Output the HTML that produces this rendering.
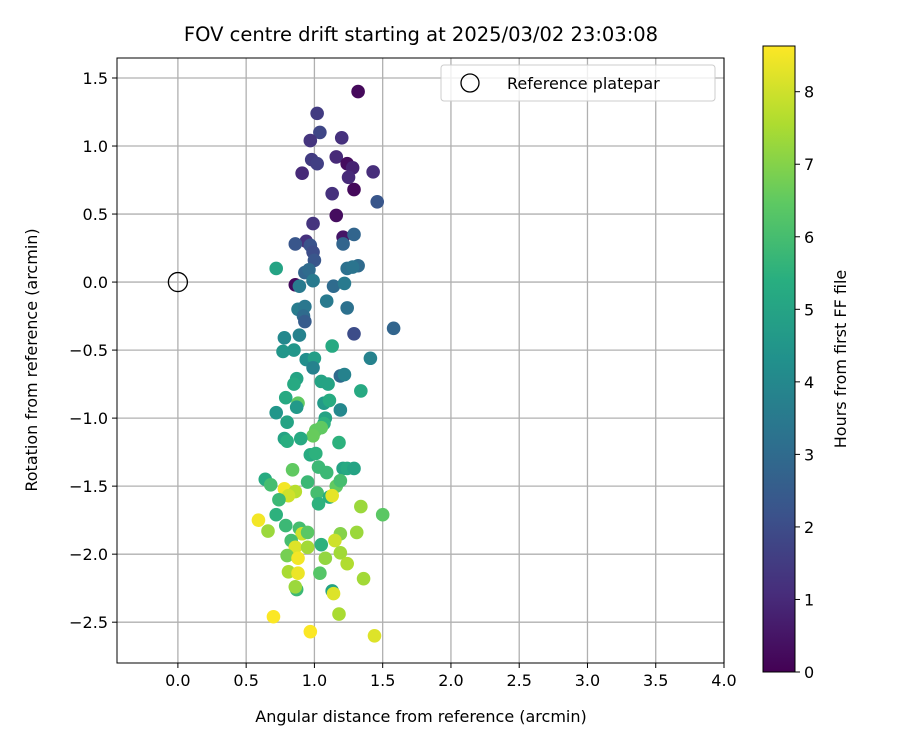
<!DOCTYPE html>
<html><head><meta charset="utf-8"><style>
body{margin:0;background:#fff;}
svg text{font-family:"DejaVu Sans","Liberation Sans",sans-serif;fill:#000;}
</style></head><body>
<svg id="chart" width="900" height="750" viewBox="0 0 900 750" xmlns="http://www.w3.org/2000/svg">
<defs>
<linearGradient id="vir" x1="0" y1="1" x2="0" y2="0">
<stop offset="0" stop-color="#440154"/><stop offset="0.125" stop-color="#472d7b"/><stop offset="0.25" stop-color="#3b528b"/><stop offset="0.375" stop-color="#2c728e"/><stop offset="0.5" stop-color="#21918c"/><stop offset="0.625" stop-color="#28ae80"/><stop offset="0.75" stop-color="#5ec962"/><stop offset="0.875" stop-color="#addc30"/><stop offset="1" stop-color="#fde725"/>
</linearGradient>
<clipPath id="pc"><rect x="117" y="58" width="607" height="605"/></clipPath>
</defs>
<text x="421" y="41" font-size="19.5" text-anchor="middle">FOV centre drift starting at 2025/03/02 23:03:08</text>
<g id="grid"></g>
<g id="pts" clip-path="url(#pc)"></g>
<rect x="117" y="58" width="607" height="605" fill="none" stroke="#000" stroke-width="1"/>
<g id="ticks"></g>
<text x="421" y="722" font-size="16" text-anchor="middle">Angular distance from reference (arcmin)</text>
<text x="37" y="360" font-size="16" text-anchor="middle" transform="rotate(-90 37 360)">Rotation from reference (arcmin)</text>
<g>
<rect x="441" y="65" width="274" height="36" rx="3" fill="#fff" fill-opacity="0.8" stroke="#ccc"/>
<circle cx="470" cy="83" r="9" fill="none" stroke="#000" stroke-width="1.3"/>
<text x="507" y="89" font-size="16">Reference platepar</text>
</g>
<rect x="763" y="46" width="32" height="626" fill="url(#vir)" stroke="#000" stroke-width="1"/>
<g id="cbt"></g>
<text x="846" y="359" font-size="16" text-anchor="middle" transform="rotate(-90 846 359)">Hours from first FF file</text>
</svg>
<script>
const xTicks=[0,0.5,1,1.5,2,2.5,3,3.5,4];
const yTicks=[-2.5,-2,-1.5,-1,-0.5,0,0.5,1,1.5];
const cbTicks=[0,1,2,3,4,5,6,7,8];
const ptX=[1.32,1.02,1.04,0.97,1.20,1.16,1.24,1.28,0.98,1.02,0.91,1.25,1.43,1.29,1.13,1.46,1.16,0.99,1.21,1.29,0.94,0.86,0.97,1.21,0.99,1.00,0.72,1.24,1.32,1.28,0.93,0.96,0.86,0.89,0.99,1.14,1.22,1.09,0.88,0.93,1.24,0.92,0.93,1.29,1.58,0.89,0.78,0.77,0.85,1.13,1.41,0.94,1.00,0.99,1.19,1.22,0.87,1.05,1.10,0.85,1.34,0.79,0.88,0.87,1.07,1.11,1.19,0.72,1.08,0.80,1.07,1.01,1.05,0.99,0.78,0.80,0.90,1.18,0.97,1.01,1.03,1.21,1.24,1.29,0.84,1.09,0.64,0.68,0.95,1.16,1.19,0.78,0.86,0.81,1.02,1.11,1.13,0.74,1.03,1.34,1.50,0.59,0.66,0.72,0.79,0.89,0.91,0.95,1.19,1.31,0.83,0.86,0.95,1.05,1.15,1.19,0.80,0.88,1.08,1.24,0.81,0.88,1.04,1.36,0.87,0.86,1.13,1.14,0.70,1.18,0.97,1.44];
const ptY=[1.40,1.24,1.10,1.04,1.06,0.92,0.87,0.84,0.90,0.87,0.80,0.77,0.81,0.68,0.65,0.59,0.49,0.43,0.33,0.35,0.30,0.28,0.27,0.28,0.22,0.16,0.10,0.10,0.12,0.11,0.07,0.09,-0.02,-0.03,0.01,-0.03,-0.01,-0.14,-0.20,-0.18,-0.19,-0.25,-0.29,-0.38,-0.34,-0.39,-0.41,-0.51,-0.50,-0.47,-0.56,-0.57,-0.56,-0.63,-0.69,-0.68,-0.71,-0.73,-0.75,-0.75,-0.80,-0.85,-0.89,-0.92,-0.89,-0.87,-0.94,-0.96,-1.00,-1.03,-1.04,-1.09,-1.07,-1.13,-1.15,-1.17,-1.15,-1.18,-1.27,-1.26,-1.36,-1.37,-1.37,-1.37,-1.38,-1.40,-1.45,-1.49,-1.47,-1.50,-1.46,-1.52,-1.54,-1.57,-1.55,-1.58,-1.57,-1.60,-1.63,-1.65,-1.71,-1.75,-1.83,-1.71,-1.79,-1.81,-1.85,-1.84,-1.85,-1.84,-1.90,-1.95,-1.95,-1.93,-1.90,-1.99,-2.01,-2.03,-2.03,-2.07,-2.13,-2.14,-2.14,-2.18,-2.26,-2.24,-2.27,-2.29,-2.46,-2.44,-2.57,-2.60];
const ptH=[0.2,1.5,1.8,1.3,1.2,1.0,0.3,0.8,1.5,1.6,1.0,1.0,1.1,0.2,1.2,2.3,0.3,1.3,0.5,2.8,1.2,2.3,2.2,2.8,2.0,2.3,5.0,3.2,3.0,3.3,2.8,3.0,0.2,3.5,3.5,3.0,3.5,3.5,3.6,3.4,3.2,3.0,2.5,2.0,2.8,3.8,4.0,4.5,4.5,5.2,3.8,4.2,4.8,3.8,3.0,3.8,5.0,5.0,5.0,5.2,5.2,5.2,6.5,4.6,4.7,5.3,4.0,4.5,5.0,5.0,5.5,6.5,6.5,6.6,5.0,5.4,5.2,5.5,5.3,5.5,5.8,5.0,5.2,5.0,6.5,5.8,5.3,6.0,5.8,6.5,6.0,8.5,7.7,8.0,6.0,5.4,8.3,5.8,5.5,7.3,6.4,8.5,7.3,5.5,5.8,6.0,8.0,6.4,7.0,7.3,6.0,8.2,7.4,5.5,8.0,7.4,6.8,8.5,7.2,7.6,7.5,8.4,6.3,7.4,5.8,7.3,5.0,8.2,8.6,7.5,8.6,8.2];

const NS="http://www.w3.org/2000/svg";
const X0=117,X1=724,Y0=58,Y1=663;
const xMin=-0.446,xMax=4.0,yMin=-2.80,yMax=1.647,hMax=8.63;
const sx=v=>X0+(v-xMin)/(xMax-xMin)*(X1-X0);
const sy=v=>Y1-(v-yMin)/(yMax-yMin)*(Y1-Y0);
const sc=h=>672-h/hMax*626;
const VIR=[[68,1,84],[71,45,123],[59,82,139],[44,114,142],[33,145,140],[40,174,128],[94,201,98],[173,220,48],[253,231,37]];
function vir(h){let t=Math.max(0,Math.min(1,h/hMax))*8;let i=Math.min(7,Math.floor(t)),f=t-i;const a=VIR[i],b=VIR[i+1];return `rgb(${a.map((c,k)=>Math.round(c+(b[k]-c)*f)).join(',')})`;}
function mk(tag,at,parent,txt){const e=document.createElementNS(NS,tag);for(const k in at)e.setAttribute(k,at[k]);if(txt!==undefined)e.textContent=txt;parent.appendChild(e);return e;}
const grid=document.getElementById('grid'),ticks=document.getElementById('ticks'),pts=document.getElementById('pts'),cbt=document.getElementById('cbt');
xTicks.forEach(v=>{const x=sx(v);
const g=mk('line',{x1:x,x2:x,y1:Y0,y2:Y1,stroke:'#b0b0b0','stroke-width':1.3},grid);


mk('line',{x1:x,x2:x,y1:Y1,y2:Y1+5,stroke:'#000'},ticks);
const t=mk('text',{x:x,y:Y1+23,'font-size':16,'text-anchor':'middle'},ticks,v.toFixed(1));

});
yTicks.forEach(v=>{const y=sy(v);
const g=mk('line',{x1:X0,x2:X1,y1:y,y2:y,stroke:'#b0b0b0','stroke-width':1.3},grid);


mk('line',{x1:X0-5,x2:X0,y1:y,y2:y,stroke:'#000'},ticks);
const t=mk('text',{x:X0-9,y:y+6,'font-size':16,'text-anchor':'end'},ticks,(v<0?'\u2212':'')+Math.abs(v).toFixed(1));

});
cbTicks.forEach(v=>{const y=sc(v);
mk('line',{x1:795,x2:800,y1:y,y2:y,stroke:'#000'},cbt);
const t=mk('text',{x:804,y:y+6,'font-size':16},cbt,String(v));

});
ptX.forEach((v,i)=>{const c=mk('circle',{cx:sx(v),cy:sy(ptY[i]),r:6.8,fill:vir(ptH[i])},pts);

});
const ref=mk('circle',{cx:sx(0),cy:sy(0),r:9.5,fill:'none',stroke:'#000','stroke-width':1.3},pts);


</script>
</body></html>
